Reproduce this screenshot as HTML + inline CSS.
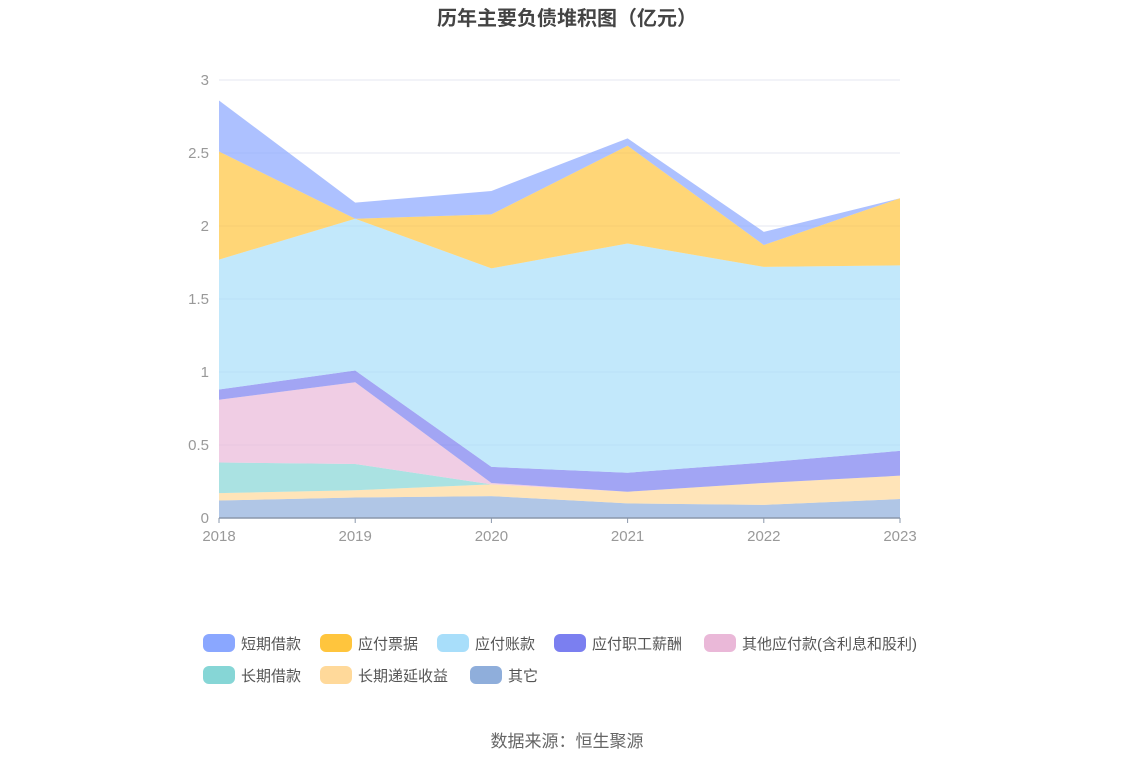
<!DOCTYPE html>
<html><head><meta charset="utf-8"><style>
body{margin:0;background:#fff;width:1134px;height:766px;overflow:hidden;font-family:"Liberation Sans","Noto Sans CJK SC",sans-serif}
</style></head><body>
<svg id="c" width="1134" height="766" xmlns="http://www.w3.org/2000/svg">
<text x="567" y="25" text-anchor="middle" font-size="20" font-weight="bold" fill="#444" font-family="Liberation Sans,Noto Sans CJK SC,sans-serif">历年主要负债堆积图（亿元）</text>
<g id="grid"></g><g id="areas"></g><g id="axes"></g><g id="legend"></g>
<text x="567" y="747" text-anchor="middle" font-size="17" fill="#666" font-family="Liberation Sans,Noto Sans CJK SC,sans-serif">数据来源：恒生聚源</text>
</svg>
<script>
const years=["2018","2019","2020","2021","2022","2023"];
const yTicks=[0,0.5,1,1.5,2,2.5,3];
const seriesNames=["短期借款","应付票据","应付账款","应付职工薪酬","其他应付款(含利息和股利)","长期借款","长期递延收益","其它"];
const sShort=[0.35,0.11,0.16,0.05,0.09,0.00];
const sNotes=[0.74,0.00,0.37,0.67,0.15,0.46];
const sPayable=[0.89,1.04,1.36,1.57,1.34,1.27];
const sStaff=[0.07,0.08,0.11,0.13,0.14,0.17];
const sOtherPay=[0.43,0.56,0.01,0,0,0];
const sLong=[0.21,0.18,0,0,0,0];
const sDeferred=[0.05,0.05,0.08,0.08,0.15,0.16];
const sOther=[0.12,0.14,0.15,0.10,0.09,0.13];
const colors=["#8aa7ff","#ffc53d","#a8defa","#7b7ff0","#eab8d8","#86d6d6","#ffd99a","#8faedb"];
const NS="http://www.w3.org/2000/svg";
const x=i=>219+i*(900-219)/(years.length-1);
const y=v=>518-v*(518-80)/3;
function mk(t,a,p){const e=document.createElementNS(NS,t);for(const k in a)e.setAttribute(k,a[k]);p.appendChild(e);return e;}
const grid=document.getElementById('grid'),axes=document.getElementById('axes'),areas=document.getElementById('areas'),legend=document.getElementById('legend');
yTicks.forEach(t=>{
 const l=mk('line',{x1:219,x2:900,y1:y(t),y2:y(t),stroke:'#e4e7f2','stroke-width':1},grid);
 
 
 const tx=mk('text',{x:209,y:y(t)+5,'text-anchor':'end','font-size':15,fill:'#999'},axes);
 tx.textContent=t;
 
 
});
const bottomUp=[sOther,sDeferred,sLong,sOtherPay,sStaff,sPayable,sNotes,sShort];
const bColors=colors.slice().reverse();
const bNames=seriesNames.slice().reverse();
let base=years.map(()=>0);
bottomUp.forEach((s,k)=>{
 const top=base.map((b,i)=>b+s[i]);
 let d='M'+years.map((_,i)=>x(i)+','+y(top[i])).join(' L');
 for(let i=years.length-1;i>=0;i--)d+=' L'+x(i)+','+y(base[i]);
 const p=mk('path',{d:d+'Z',fill:bColors[k],'fill-opacity':0.7},areas);
 
 
 base=top;
});
const ax=mk('line',{x1:219,x2:900,y1:518,y2:518,stroke:'#8a97ab','stroke-width':1.5},axes);


years.forEach((yr,i)=>{
 const tk=mk('line',{x1:x(i),x2:x(i),y1:518,y2:523,stroke:'#8a97ab'},axes);
 
 
 const t=mk('text',{x:x(i),y:541,'text-anchor':'middle','font-size':15,fill:'#999'},axes);
 t.textContent=yr;
 
 
});
const lx=[203,320,437,554,704,203,320,470],ly=[643,643,643,643,643,675,675,675];
seriesNames.forEach((n,i)=>{
 const g=mk('g',{},legend);
 
 
 mk('rect',{x:lx[i],y:ly[i]-9,width:32,height:18,rx:6,fill:colors[i]},g);
 const t=mk('text',{x:lx[i]+38,y:ly[i]+6,'font-size':15,fill:'#555'},g);
 t.textContent=n;
});
</script>
</body></html>
